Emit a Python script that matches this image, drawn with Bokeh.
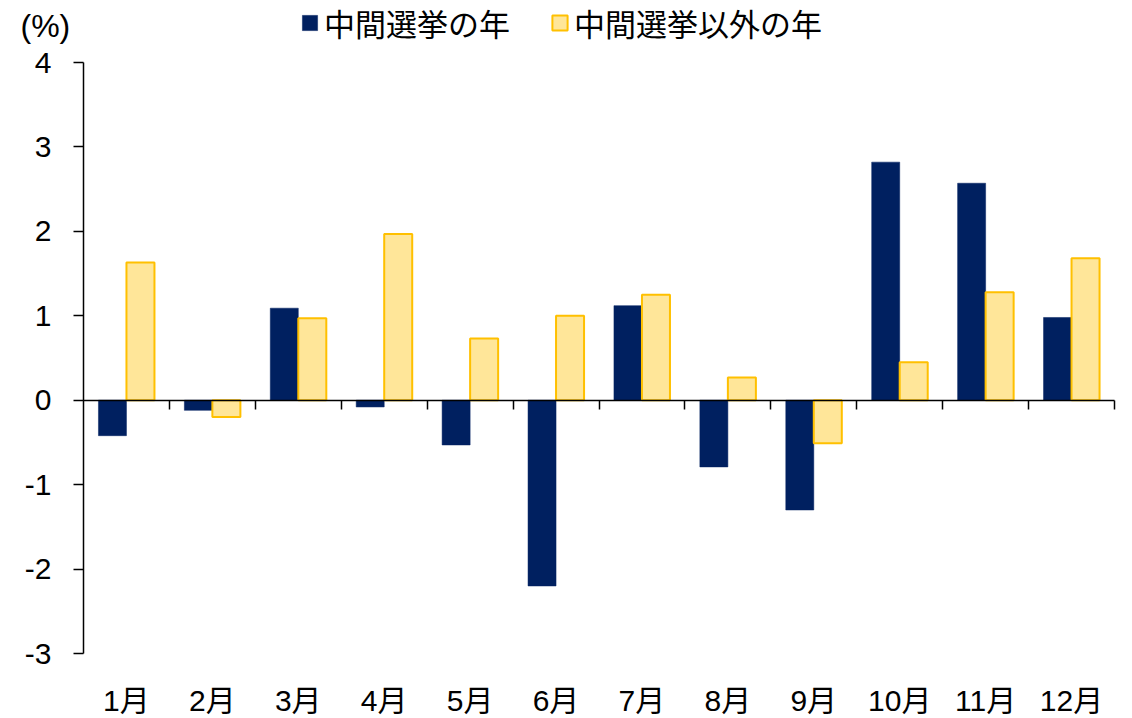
from bokeh.plotting import figure
from bokeh.models import (ColumnDataSource, Range1d, FixedTicker, Legend,
                          LegendItem, LinearAxis, Label)
from bokeh.embed import file_html
from bokeh.resources import INLINE

months = ["1月", "2月", "3月", "4月", "5月", "6月", "7月", "8月", "9月", "10月", "11月", "12月"]
midterm = [-0.42, -0.12, 1.09, -0.08, -0.53, -2.20, 1.12, -0.79, -1.30, 2.82, 2.57, 0.98]
non_midterm = [1.63, -0.20, 0.97, 1.97, 0.73, 1.00, 1.25, 0.27, -0.51, 0.45, 1.28, 1.68]
y_ticks = [-3, -2, -1, 0, 1, 2, 3, 4]
y_tick_labels = ["-3", "-2", "-1", "0", "1", "2", "3", "4"]
series_names = ["中間選挙の年", "中間選挙以外の年"]
unit_label = "(%)"

W, H = 1132, 718
# plot area in canvas pixels
PL, PR, PT, PB = 83, 1114, 62, 653

n = len(months)
ymin, ymax = y_ticks[0], y_ticks[-1]
xpx = (PR - PL) / n
ypx = (PB - PT) / (ymax - ymin)
x_range = Range1d(-PL / xpx, n + (W - PR) / xpx)
y_range = Range1d(ymin - (H - PB) / ypx, ymax + PT / ypx)

centers = [i + 0.5 for i in range(n)]
bw = 0.326
src = ColumnDataSource(dict(
    xa=[c - bw / 2 for c in centers],
    xb=[c + bw / 2 for c in centers],
    a=midterm, b=non_midterm,
))

NAVY = "#002060"
YFILL = "#FFE699"
YLINE = "#FFC000"
NUM_FONT = "'Liberation Sans', 'Noto Sans CJK JP'"
JP_FONT = "'Noto Sans CJK JP'"

p = figure(width=W, height=H, output_backend="svg", toolbar_location=None,
           title_location=None, x_range=x_range, y_range=y_range,
           min_border=0, min_border_left=0, min_border_right=0,
           min_border_top=0, min_border_bottom=0)
p.outline_line_color = None
p.xgrid.visible = False
p.ygrid.visible = False
p.background_fill_color = "white"

r1 = p.vbar(x="xa", top="a", bottom=0, width=bw, source=src,
            fill_color=NAVY, line_color=NAVY, line_width=0.5)
r2 = p.vbar(x="xb", top="b", bottom=0, width=bw, source=src,
            fill_color=YFILL, line_color=YLINE, line_width=2)

# y axis at x = 0
ya = p.yaxis[0]
ya.fixed_location = 0
ya.bounds = (ymin, ymax)
ya.ticker = FixedTicker(ticks=y_ticks)
ya.major_label_overrides = {t: s for t, s in zip(y_ticks, y_tick_labels)}
ya.major_tick_out = 10
ya.major_tick_in = 0
ya.minor_tick_line_color = None
ya.axis_line_width = 1.5
ya.axis_line_color = "black"
ya.major_tick_line_width = 1.5
ya.major_tick_line_color = "black"
ya.major_label_text_font = NUM_FONT
ya.major_label_text_font_size = "30px"
ya.major_label_text_color = "black"
ya.major_label_standoff = 22

# zero line axis with category boundary ticks
xz = p.xaxis[0]
xz.fixed_location = 0
xz.bounds = (0, n)
xz.ticker = FixedTicker(ticks=[float(i) for i in range(1, n + 1)])
xz.axis_line_width = 1.5
xz.axis_line_color = "black"
xz.major_tick_out = 9
xz.major_tick_in = 0
xz.major_tick_line_width = 1.5
xz.major_tick_line_color = "black"
xz.minor_tick_line_color = None
xz.major_label_text_color = None

# month labels along the bottom of the plot area
xm = LinearAxis(fixed_location=ymin, ticker=FixedTicker(ticks=centers))
xm.major_label_overrides = {c: m for c, m in zip(centers, months)}
xm.axis_line_color = None
xm.major_tick_line_color = None
xm.minor_tick_line_color = None
xm.major_label_text_font = NUM_FONT
xm.major_label_text_font_size = "30px"
xm.major_label_text_color = "black"
xm.major_label_standoff = 24
p.add_layout(xm, "below")

# unit label
p.add_layout(Label(x=(20 - PL) / xpx, y=ymax + (PT - 25) / ypx, text=unit_label,
                   text_font=NUM_FONT, text_font_size="32px",
                   text_baseline="middle", text_align="left", text_color="black"))

legend = Legend(items=[LegendItem(label=series_names[0], renderers=[r1]),
                       LegendItem(label=series_names[1], renderers=[r2])],
                orientation="horizontal", location=(300, H - 45),
                padding=0, margin=0, spacing=40, label_standoff=5,
                glyph_width=19, glyph_height=19,
                label_text_font=JP_FONT, label_text_font_size="31px",
                label_text_color="black", background_fill_alpha=0,
                border_line_color=None)
p.add_layout(legend, "center")

open("out.html", "w").write(file_html(p, INLINE))
